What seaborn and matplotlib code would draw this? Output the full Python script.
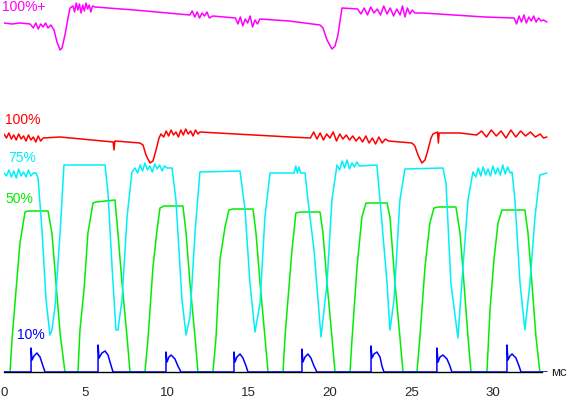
"""
Oscilloscope-style response traces at several brightness levels (ms time axis).
"""

import matplotlib
matplotlib.use("Agg")
import matplotlib.pyplot as plt
import pandas as pd
import seaborn as sns

# --- data (time in ms, signal level in arbitrary units) ---
magenta_t = [0.00, 0.50, 1.00, 1.60, 1.80, 1.95, 2.10, 2.25, 2.40, 2.55, 2.70, 2.88,
             3.07, 3.25, 3.44, 3.56, 3.74, 3.93, 4.05, 4.23,
             4.33, 4.43, 4.53, 4.63, 4.73, 4.83, 4.93, 5.03, 5.13, 5.23, 5.33, 5.43, 5.58,
             8.00, 11.40, 11.55, 11.70, 11.85, 12.00, 12.15, 12.30, 12.45, 12.60, 12.80,
             14.20, 14.35, 14.50, 14.65, 14.80, 14.95, 15.10, 15.25, 15.40, 15.55, 15.70, 17.50,
             19.39, 19.57, 19.82, 20.12, 20.31, 20.49, 20.67, 20.74,
             21.70, 21.90, 22.10, 22.30, 22.50, 22.70, 22.90, 23.10, 23.30, 23.50,
             23.70, 23.90, 24.10, 24.30, 24.45, 24.60, 24.75, 24.90, 25.05, 25.20, 25.70,
             29.50, 31.30, 31.45, 31.60, 31.75, 31.90, 32.05, 32.20, 32.35, 32.50, 32.65,
             32.80, 32.95, 33.10, 33.31]
magenta_v = [349, 348, 349, 348, 344, 349, 343, 348, 345, 349, 344, 347,
             342, 330, 322, 324, 337, 354, 364, 366,
             360, 369, 362, 368, 359, 367, 361, 369, 363, 367, 360, 366, 365,
             362, 357, 361, 355, 360, 354, 359, 356, 360, 354, 356,
             354, 348, 355, 346, 353, 349, 356, 345, 352, 348, 353, 351,
             347, 344, 332, 323, 326, 337, 357, 364,
             363, 358, 364, 357, 365, 359, 363, 357, 366, 358,
             364, 356, 363, 357, 366, 355, 364, 358, 362, 359, 359,
             355, 354, 348, 356, 350, 357, 349, 355, 351, 356, 350,
             354, 351, 352, 350]

red_t = [0.00, 0.15, 0.30, 0.45, 0.60, 0.75, 0.90, 1.05, 1.20, 1.35, 1.50, 1.65,
         1.80, 1.95, 2.10, 2.25, 2.40, 3.44, 6.70, 6.75, 6.80, 8.34, 8.53, 8.71,
         8.96, 9.14, 9.33, 9.51, 9.63, 9.80, 9.95, 10.10, 10.25, 10.40, 10.55,
         10.70, 10.85, 11.00, 11.15, 11.30, 11.45, 11.60, 11.75, 11.90, 12.02,
         17.55, 18.80, 19.00, 19.20, 19.40, 19.60, 19.80, 20.00, 20.20, 20.40,
         20.60, 20.80, 21.00, 21.20, 21.40, 21.60, 21.80, 22.00, 22.20, 22.40,
         22.60, 22.80, 23.00, 23.20, 23.40, 23.60, 25.03, 25.21, 25.40, 25.64,
         25.83, 26.01, 26.20, 26.32, 26.60, 26.65, 26.70, 27.98, 29.00, 29.30,
         29.60, 29.90, 30.20, 30.50, 30.80, 31.10, 31.40, 31.70, 32.00, 32.30,
         32.60, 32.90, 33.10, 33.31]
red_v = [238, 234, 239, 233, 237, 232, 238, 233, 236, 231, 237, 232,
         235, 230, 236, 231, 234, 235, 230, 222, 231, 229, 227, 217,
         209, 211, 222, 234, 238, 235, 241, 236, 242, 237, 240, 235,
         242, 237, 243, 238, 241, 236, 242, 238, 240,
         235, 234, 240, 233, 239, 232, 238, 234, 240, 231, 238, 233,
         237, 232, 236, 231, 235, 230, 236, 229, 234, 228, 235, 229,
         233, 231, 229, 226, 217, 209, 212, 222, 234, 238, 240, 229,
         239, 239, 237, 241, 235, 242, 236, 241, 234, 242, 235, 241,
         236, 240, 235, 238, 234, 235]

cyan_t = [0.00, 0.15, 0.30, 0.45, 0.60, 0.75, 0.90, 1.05, 1.20, 1.35, 1.50, 1.65,
          1.80, 1.96, 2.09, 2.33, 2.58, 2.82, 2.94, 3.13, 3.44, 3.68,
          6.20, 6.38, 6.63, 6.87, 6.99, 7.24, 7.55, 7.85, 8.04,
          8.20, 8.35, 8.50, 8.65, 8.80, 8.95, 9.10, 9.25, 9.40, 9.55, 9.70, 9.85,
          10.00, 10.31, 10.55, 10.92, 11.17, 11.41, 11.72, 12.02,
          14.48, 14.79, 15.09, 15.40, 15.71, 16.01, 16.32,
          17.80, 17.90, 18.00, 18.10, 18.20, 18.47, 18.65, 19.02, 19.45, 19.82,
          20.12, 20.43, 20.60, 20.75, 20.90, 21.05, 21.20, 21.35, 21.50, 21.65,
          21.80, 22.88, 23.07, 23.50, 23.68, 23.93, 24.29, 24.60,
          26.93, 27.12, 27.42, 27.85, 28.16, 28.47, 28.77, 28.95, 29.10, 29.25,
          29.40, 29.55, 29.70, 29.85, 30.00, 30.15, 30.30, 30.45, 30.60, 30.75,
          30.90, 31.05, 31.17, 31.35, 31.66, 31.96, 32.27, 32.58, 32.88, 33.31]
cyan_v = [199, 196, 202, 195, 201, 194, 203, 196, 200, 195, 202, 196,
          199, 199, 194, 142, 72, 37, 42, 65, 139, 207,
          207, 179, 105, 42, 42, 72, 155, 200, 204,
          199, 207, 201, 209, 202, 206, 200, 208, 203, 207, 201, 206,
          204, 204, 172, 72, 37, 55, 139, 200,
          201, 162, 89, 40, 69, 155, 199,
          199, 206, 199, 205, 199, 199, 172, 122, 35, 89,
          172, 207, 202, 211, 204, 212, 203, 209, 205, 210, 206,
          207, 172, 89, 42, 72, 172, 203,
          204, 189, 89, 34, 105, 172, 200, 195, 204, 196,
          205, 197, 203, 196, 206, 198, 204, 197, 207, 198,
          205, 199, 200, 172, 89, 42, 89, 155, 197, 199]

green_t = [0.00, 0.37, 0.49, 0.74, 0.98, 1.29, 1.47, 2.70, 2.94, 3.19, 3.44, 3.74,
           4.54, 4.66, 4.91, 5.15, 5.46, 5.64, 6.81, 6.99, 7.24, 7.55, 7.73,
           8.65, 8.83, 9.14, 9.39, 9.57, 9.82, 10.98, 11.17, 11.41, 11.72, 11.90,
           12.82, 13.01, 13.25, 13.56, 13.80, 14.05, 15.28, 15.46, 15.71, 16.01, 16.20,
           17.12, 17.24, 17.42, 17.67, 17.91, 18.16, 19.39, 19.57, 19.82, 20.12, 20.31,
           21.23, 21.35, 21.66, 21.96, 22.21, 22.45, 23.50, 23.68, 23.99, 24.29, 24.48,
           25.34, 25.52, 25.83, 26.13, 26.38, 26.63, 27.73, 27.98, 28.22, 28.47, 28.65,
           29.63, 29.82, 30.06, 30.31, 30.55, 30.80, 31.96, 32.15, 32.39, 32.64, 32.88, 33.31]
green_v = [0, 0, 32, 82, 129, 160, 161, 161, 139, 89, 39, 0,
           0, 42, 82, 139, 169, 170, 172, 139, 89, 35, 0,
           0, 32, 105, 142, 164, 166, 166, 139, 89, 35, 0,
           0, 35, 112, 145, 162, 163, 163, 139, 89, 35, 0,
           0, 35, 72, 122, 159, 160, 160, 139, 89, 35, 0,
           0, 32, 105, 155, 169, 169, 169, 155, 89, 35, 0,
           0, 35, 105, 149, 164, 165, 165, 139, 89, 35, 0,
           0, 62, 112, 149, 162, 162, 162, 139, 89, 35, 0, 0]

blue_t = [0.00,
          1.66, 1.66, 1.72, 1.84, 2.02, 2.21, 2.39, 2.52,
          5.77, 5.77, 5.83, 6.01, 6.20, 6.38, 6.56, 6.69,
          9.94, 9.94, 10.00, 10.12, 10.25, 10.49, 10.67, 10.86,
          14.11, 14.11, 14.17, 14.29, 14.48, 14.66, 14.85, 14.97,
          18.28, 18.28, 18.34, 18.47, 18.65, 18.83, 19.02, 19.20,
          22.52, 22.52, 22.58, 22.70, 22.88, 23.07, 23.19, 23.31,
          26.56, 26.56, 26.63, 26.75, 26.93, 27.18, 27.36, 27.48,
          30.86, 30.86, 30.92, 31.04, 31.17, 31.41, 31.60, 31.72,
          33.31]
blue_v = [0,
          0, 24, 12, 16, 19, 15, 6, 0,
          0, 27, 14, 19, 21, 17, 7, 0,
          0, 20, 10, 15, 17, 13, 6, 0,
          0, 20, 10, 15, 18, 14, 6, 0,
          0, 23, 10, 15, 18, 14, 6, 0,
          0, 26, 14, 18, 20, 15, 6, 0,
          0, 24, 10, 15, 17, 13, 6, 0,
          0, 27, 12, 16, 18, 14, 6, 0,
          0]

traces = [
    ("100%+", magenta_t, magenta_v, "#ff00ff"),
    ("100%", red_t, red_v, "#ff0000"),
    ("50%", green_t, green_v, "#00ee00"),
    ("75%", cyan_t, cyan_v, "#00f0f8"),
    ("10%", blue_t, blue_v, "#0000ff"),
]

# label anchor per trace: (time, level)
label_pos = {
    "100%+": (-0.12, 365),
    "100%": (0.06, 252),
    "75%": (0.25, 214),
    "50%": (0.06, 173),
    "10%": (0.80, 37),
}

sns.set_style("white")
plt.rcParams["font.family"] = ["Liberation Sans", "DejaVu Sans"]

fig = plt.figure(figsize=(5.69, 3.98), dpi=100)
ax = fig.add_axes([4 / 569, 26 / 398, 546 / 569, 372 / 398])

for name, t, v, color in traces:
    df = pd.DataFrame({"t": t, "v": v})
    sns.lineplot(data=df, x="t", y="v", sort=False, estimator=None,
                 color=color, linewidth=1.1, ax=ax, zorder=3)
    lx, ly = label_pos[name]
    ax.text(lx, ly, name, color=color, fontsize=10, va="center", ha="left")

ax.set_xlim(0, 33.5)
ax.set_ylim(0, 372)
ax.set_xlabel("")
ax.set_ylabel("")
ax.set_yticks([])
ax.set_xticks(range(0, 31, 5))
ax.set_xticks(range(0, 34), minor=True)
ax.tick_params(axis="x", which="major", direction="out", length=7.5, width=1,
               color="black", labelsize=9.5, pad=3.5)
ax.tick_params(axis="x", which="minor", direction="out", length=3.6, width=1,
               color="black")
for side in ["top", "right", "left"]:
    ax.spines[side].set_visible(False)
ax.spines["bottom"].set_color("black")
ax.spines["bottom"].set_linewidth(1)
ax.spines["bottom"].set_bounds(0, 33)
ax.spines["bottom"].set_zorder(2)

ax.text(34.55, -1, "мс", fontsize=9.5, va="center", ha="right", clip_on=False)

fig.savefig("out.png", dpi=100)
